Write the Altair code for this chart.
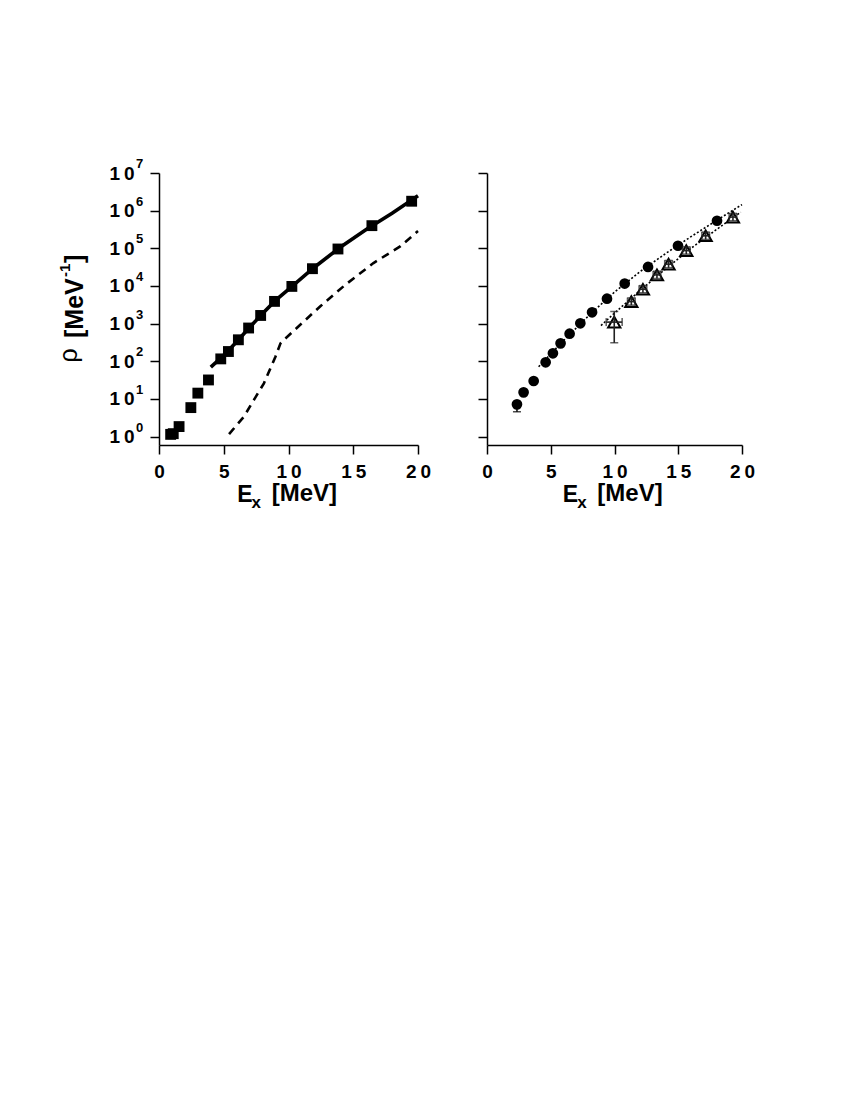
import altair as alt
import pandas as pd

FONT = "Liberation Sans"

# ---------------- data ----------------
# left panel: measured level density (squares), fit (solid), calculation (dashed)
sq_x = [0.9, 1.1, 1.55, 2.46, 3.0, 3.82, 4.77, 5.36, 6.13, 6.92, 7.85, 8.92, 10.26, 11.85, 13.82, 16.44, 19.51]
sq_y = [1.15, 1.2, 1.85, 5.9, 14.3, 32, 116, 182, 373, 766, 1650, 3900, 9750, 28800, 96000, 400000, 1780000]

fit_x = [4.0, 5.0, 6.0, 7.0, 8.0, 9.0, 10.0, 12.0, 14.0, 16.0, 18.0, 20.0]
fit_y = [70, 145, 330, 800, 1860, 4150, 8100, 31500, 107000, 316000, 850000, 2500000]

dash_x = [5.41, 6.56, 7.33, 8.1, 9.0, 9.38, 9.64, 12.46, 14.38, 16.56, 18.62, 20.0]
dash_y = [1.17, 3.4, 9.5, 26, 135, 300, 370, 2900, 10700, 40700, 112000, 288000]

# right panel: circles and open triangles, two dotted curves
circ_x = [2.35, 2.87, 3.66, 4.6, 5.17, 5.77, 6.48, 7.32, 8.24, 9.41, 10.8, 12.63, 14.98, 18.04]
circ_y = [7.2, 15, 30, 94, 163, 300, 540, 1020, 2000, 4600, 11600, 32000, 117000, 540000]
circ_err_x = [2.35]
circ_err_lo = [4.6]
circ_err_hi = [9.0]

tri_x = [9.98, 11.32, 12.23, 13.33, 14.24, 15.63, 17.15, 19.29]
tri_y = [1100, 3850, 8200, 19700, 38000, 87000, 215000, 675000]
tri_ylo = [310, 3100, 6600, 15800, 30500, 70000, 172000, 540000]
tri_yhi = [2100, 4800, 10200, 24600, 47500, 109000, 269000, 845000]
tri_xlo = [9.35, 11.02, 11.93, 13.03, 13.94, 15.33, 16.85, 18.99]
tri_xhi = [10.6, 11.62, 12.53, 13.63, 14.54, 15.93, 17.45, 19.59]

dot1_x = [4.05, 6.0, 8.0, 10.0, 12.0, 14.0, 16.0, 18.0, 20.0]
dot1_y = [72, 355, 1660, 6900, 24000, 72400, 204000, 550000, 1450000]
dot2_x = [8.94, 10.0, 12.0, 14.0, 16.0, 18.0, 19.9]
dot2_y = [891, 1905, 7590, 28200, 100000, 316000, 912000]

x_ticks = [0, 5, 10, 15, 20]
y_ticks = [1, 10, 100, 1000, 1e4, 1e5, 1e6, 1e7]
y_exps = ["0", "1", "2", "3", "4", "5", "6", "7"]

xt_main, xt_sub, xt_unit = "E", "x", "[MeV]"
yt_sym, yt_unit, yt_sup, yt_close = "ρ", "[MeV", "-1", "]"

# ---------------- scales / axes ----------------
xsc = alt.Scale(domain=[0, 20], nice=False, zero=False)
ysc = alt.Scale(type="log", domain=[0.6, 1e7], nice=False)

THIN = "\u2009"
x_label_expr = ("datum.value >= 10 ? substring(datum.label, 0, 1) + '" + THIN +
                "' + substring(datum.label, 1) : datum.label")

common_axis = dict(title=None, grid=False, tickSize=9, tickWidth=1.5, domainWidth=1.5,
                   domainColor="black", tickColor="black", labelColor="black",
                   labelFont=FONT, labelFontSize=19, labelFontWeight="bold",
                   labelFlush=False, labelOverlap=False)

xax = alt.Axis(values=x_ticks, labelExpr=x_label_expr, labelPadding=8, **common_axis)
yax_l = alt.Axis(values=y_ticks, labelExpr="'1" + THIN + "0'", labelPadding=16,
                 labelBaseline="middle", **common_axis)
yax_r = alt.Axis(values=y_ticks, labels=False, **common_axis)


def X(f):
    return alt.X(f + ":Q", scale=xsc, axis=xax)


def Y(f, ax):
    return alt.Y(f + ":Q", scale=ysc, axis=ax)


def txt(text, x, y, size, weight="bold", angle=0):
    return alt.Chart(pd.DataFrame({"t": [text]})).mark_text(
        align="left", baseline="alphabetic", font=FONT, fontSize=size,
        fontWeight=weight, angle=angle, color="black"
    ).encode(x=alt.value(x), y=alt.value(y), text="t:N")


# ---------------- left panel ----------------
df_sq = pd.DataFrame({"x": sq_x, "y": sq_y})
df_fit = pd.DataFrame({"x": fit_x, "y": fit_y})
df_dash = pd.DataFrame({"x": dash_x, "y": dash_y})
df_exp = pd.DataFrame({"y": y_ticks, "e": y_exps})

L_W, R_W, H = 259, 255, 272

left_layers = [
    alt.Chart(df_fit).mark_line(color="black", strokeWidth=3.6).encode(x=X("x"), y=Y("y", yax_l)),
    alt.Chart(df_dash).mark_line(color="black", strokeWidth=2.6, strokeDash=[8, 6]).encode(
        x=X("x"), y=Y("y", yax_l)),
    alt.Chart(df_sq).mark_point(shape="square", filled=True, size=118, color="black", opacity=1).encode(
        x=X("x"), y=Y("y", yax_l)),
    alt.Chart(df_exp).mark_text(align="left", baseline="middle", dy=-9, font=FONT, fontSize=13,
                                fontWeight="bold", color="black").encode(
        x=alt.value(-23), y=Y("y", yax_l), text="e:N"),
    txt(xt_main, 78.2, 329.0, 23),
    txt(xt_sub, 92.5, 334.8, 17),
    txt(xt_unit, 112.7, 328.3, 24),
    txt(yt_sym, -81.8, 189.5, 25, weight="normal", angle=270),
    txt(yt_unit, -76.3, 165.0, 25, angle=270),
    txt(yt_sup, -89.3, 104.0, 15, angle=270),
    txt(yt_close, -76.3, 90.0, 25, angle=270),
]
left = alt.layer(*left_layers).properties(width=L_W, height=H)

# ---------------- right panel ----------------
df_c = pd.DataFrame({"x": circ_x, "y": circ_y})
df_ce = pd.DataFrame({"x": circ_err_x, "lo": circ_err_lo, "hi": circ_err_hi})
df_t = pd.DataFrame({"x": tri_x, "y": tri_y, "lo": tri_ylo, "hi": tri_yhi,
                     "xlo": tri_xlo, "xhi": tri_xhi})
df_d1 = pd.DataFrame({"x": dot1_x, "y": dot1_y})
df_d2 = pd.DataFrame({"x": dot2_x, "y": dot2_y})

EB = "#222222"
right_layers = [
    alt.Chart(df_d1).mark_line(color="black", strokeWidth=1.6, strokeDash=[2, 2]).encode(
        x=X("x"), y=Y("y", yax_r)),
    alt.Chart(df_d2).mark_line(color="black", strokeWidth=1.6, strokeDash=[2, 2]).encode(
        x=X("x"), y=Y("y", yax_r)),
    alt.Chart(df_c).mark_point(shape="circle", filled=True, size=115, color="black", opacity=1).encode(
        x=X("x"), y=Y("y", yax_r)),
    alt.Chart(df_ce).mark_rule(color="black", strokeWidth=1.5).encode(
        x=X("x"), y=Y("lo", yax_r), y2="hi"),
    alt.Chart(df_ce).mark_tick(orient="horizontal", size=8, thickness=1.5, color="black").encode(
        x=X("x"), y=Y("lo", yax_r)),
    alt.Chart(df_t).mark_point(shape="triangle-up", filled=True, fill="white", stroke="black",
                               strokeWidth=2.0, size=150, opacity=1).encode(
        x=X("x"), y=Y("y", yax_r)),
    alt.Chart(df_t).mark_rule(color=EB, strokeWidth=1.6).encode(
        x=X("x"), y=Y("lo", yax_r), y2="hi"),
    alt.Chart(df_t).mark_rule(color=EB, strokeWidth=1.6).encode(
        x=X("xlo"), x2="xhi", y=Y("y", yax_r)),
    alt.Chart(df_t).mark_tick(orient="horizontal", size=8, thickness=1.6, color=EB).encode(
        x=X("x"), y=Y("lo", yax_r)),
    alt.Chart(df_t).mark_tick(orient="horizontal", size=8, thickness=1.6, color=EB).encode(
        x=X("x"), y=Y("hi", yax_r)),
    alt.Chart(df_t).mark_tick(orient="vertical", size=8, thickness=1.6, color=EB).encode(
        x=X("xlo"), y=Y("y", yax_r)),
    alt.Chart(df_t).mark_tick(orient="vertical", size=8, thickness=1.6, color=EB).encode(
        x=X("xhi"), y=Y("y", yax_r)),
    txt(xt_main, 75.8, 329.0, 23),
    txt(xt_sub, 90.3, 334.8, 17),
    txt(xt_unit, 110.3, 328.3, 24),
]
right = alt.layer(*right_layers).properties(width=R_W, height=H)

chart = alt.hconcat(left, right, spacing=69, bounds="flush").properties(
    padding={"left": 49, "top": 150, "right": 5, "bottom": 5},
).configure_view(stroke=None)

chart.save("out.html", embed_options={"renderer": "svg", "actions": False})
